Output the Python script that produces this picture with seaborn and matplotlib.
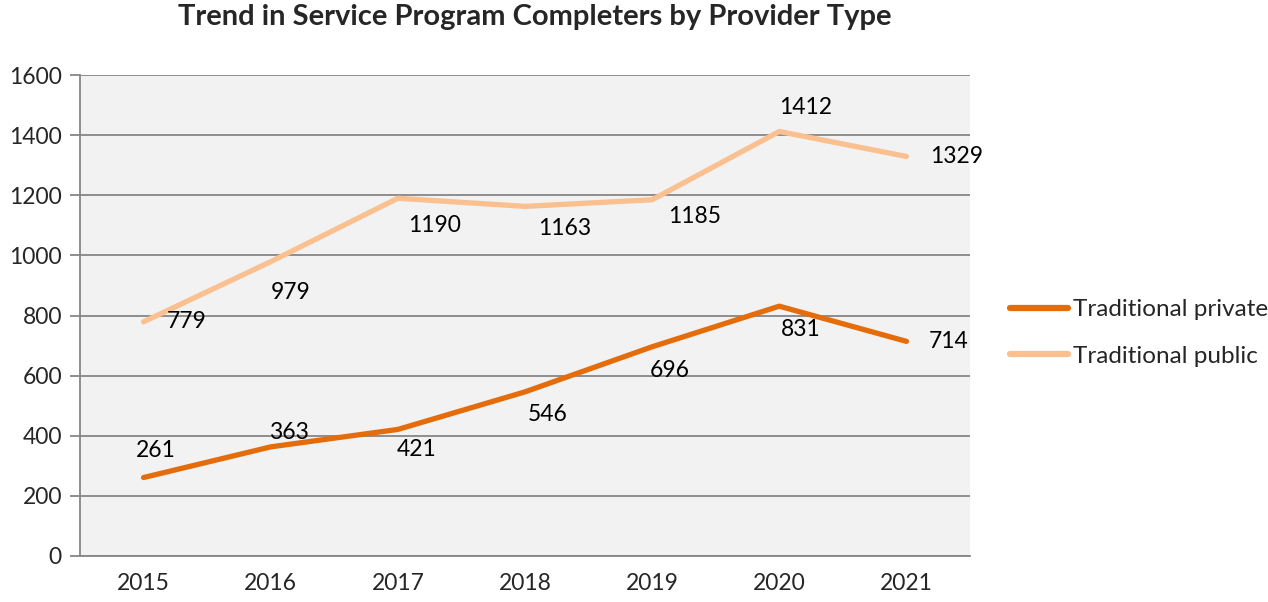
import pandas as pd
import seaborn as sns
from matplotlib import pyplot as plt
from matplotlib.ticker import MultipleLocator, FixedLocator

years = ['2015', '2016', '2017', '2018', '2019', '2020', '2021']
private = [261, 363, 421, 546, 696, 831, 714]
public = [779, 979, 1190, 1163, 1185, 1412, 1329]

# label offsets (pixels) copied from the way the original chart places them
private_offsets = [(12, 27), (18, 14), (19, -20), (23, -23), (18, -24), (21, -23), (42, 0)]
public_offsets = [(43, 0), (20, -31), (37, -27), (40, -22), (42, -17), (26, 24), (50, 0)]

series_names = ['Traditional private', 'Traditional public']
colors = ['#e46c0a', '#fac090']

sns.set_theme(style='white')
plt.rcParams['font.family'] = ['Lato', 'DejaVu Sans']

df = pd.DataFrame({'year': years * 2,
                   'completers': private + public,
                   'type': [series_names[0]] * len(years) + [series_names[1]] * len(years)})

fig = plt.figure(figsize=(12.68, 6.02), dpi=100)
ax = fig.add_axes([80 / 1268, (602 - 556) / 602, 890 / 1268, 481 / 602])
ax.set_facecolor('#f2f2f2')

sns.lineplot(data=df, x='year', y='completers', hue='type', palette=colors,
             linewidth=3.8, ax=ax, sort=False)
for line in ax.get_lines():
    line.set_solid_capstyle('round')

for vals, offs in [(private, private_offsets), (public, public_offsets)]:
    for i, (v, o) in enumerate(zip(vals, offs)):
        ax.annotate(str(v), (i, v), xytext=o, textcoords='offset pixels',
                    ha='center', va='center', fontsize=16.5, color='#000000')

ax.set_xlim(-0.5, 6.5)
ax.set_ylim(0, 1600)
ax.yaxis.set_major_locator(MultipleLocator(200))
ax.grid(axis='y', color='#868686', linewidth=1.3)
ax.set_axisbelow(True)
ax.xaxis.set_minor_locator(FixedLocator([i - 0.5 for i in range(8)]))
ax.tick_params(axis='x', which='major', length=0, pad=12, labelsize=16.5)
ax.tick_params(axis='x', which='minor', length=7, color='#868686', width=1.3)
ax.tick_params(axis='y', length=7, color='#868686', width=1.3, labelsize=16.5, pad=6, left=True)
for s in ['top', 'right']:
    ax.spines[s].set_visible(False)
for s in ['left', 'bottom']:
    ax.spines[s].set_color('#868686')
    ax.spines[s].set_linewidth(1.3)
ax.set_xlabel('')
ax.set_ylabel('')

fig.suptitle('Trend in Service Program Completers by Provider Type',
             x=535 / 1268, y=1 - 17 / 602, va='center', fontsize=21, fontweight='bold')

leg = ax.legend(loc='center left', bbox_to_anchor=(1.02, 0.464), frameon=False,
                fontsize=17.5, handlelength=2.4, labelspacing=1.05, handletextpad=0.2)
for h in leg.get_lines():
    h.set_linewidth(4.5)

fig.savefig('out.png', dpi=100)
